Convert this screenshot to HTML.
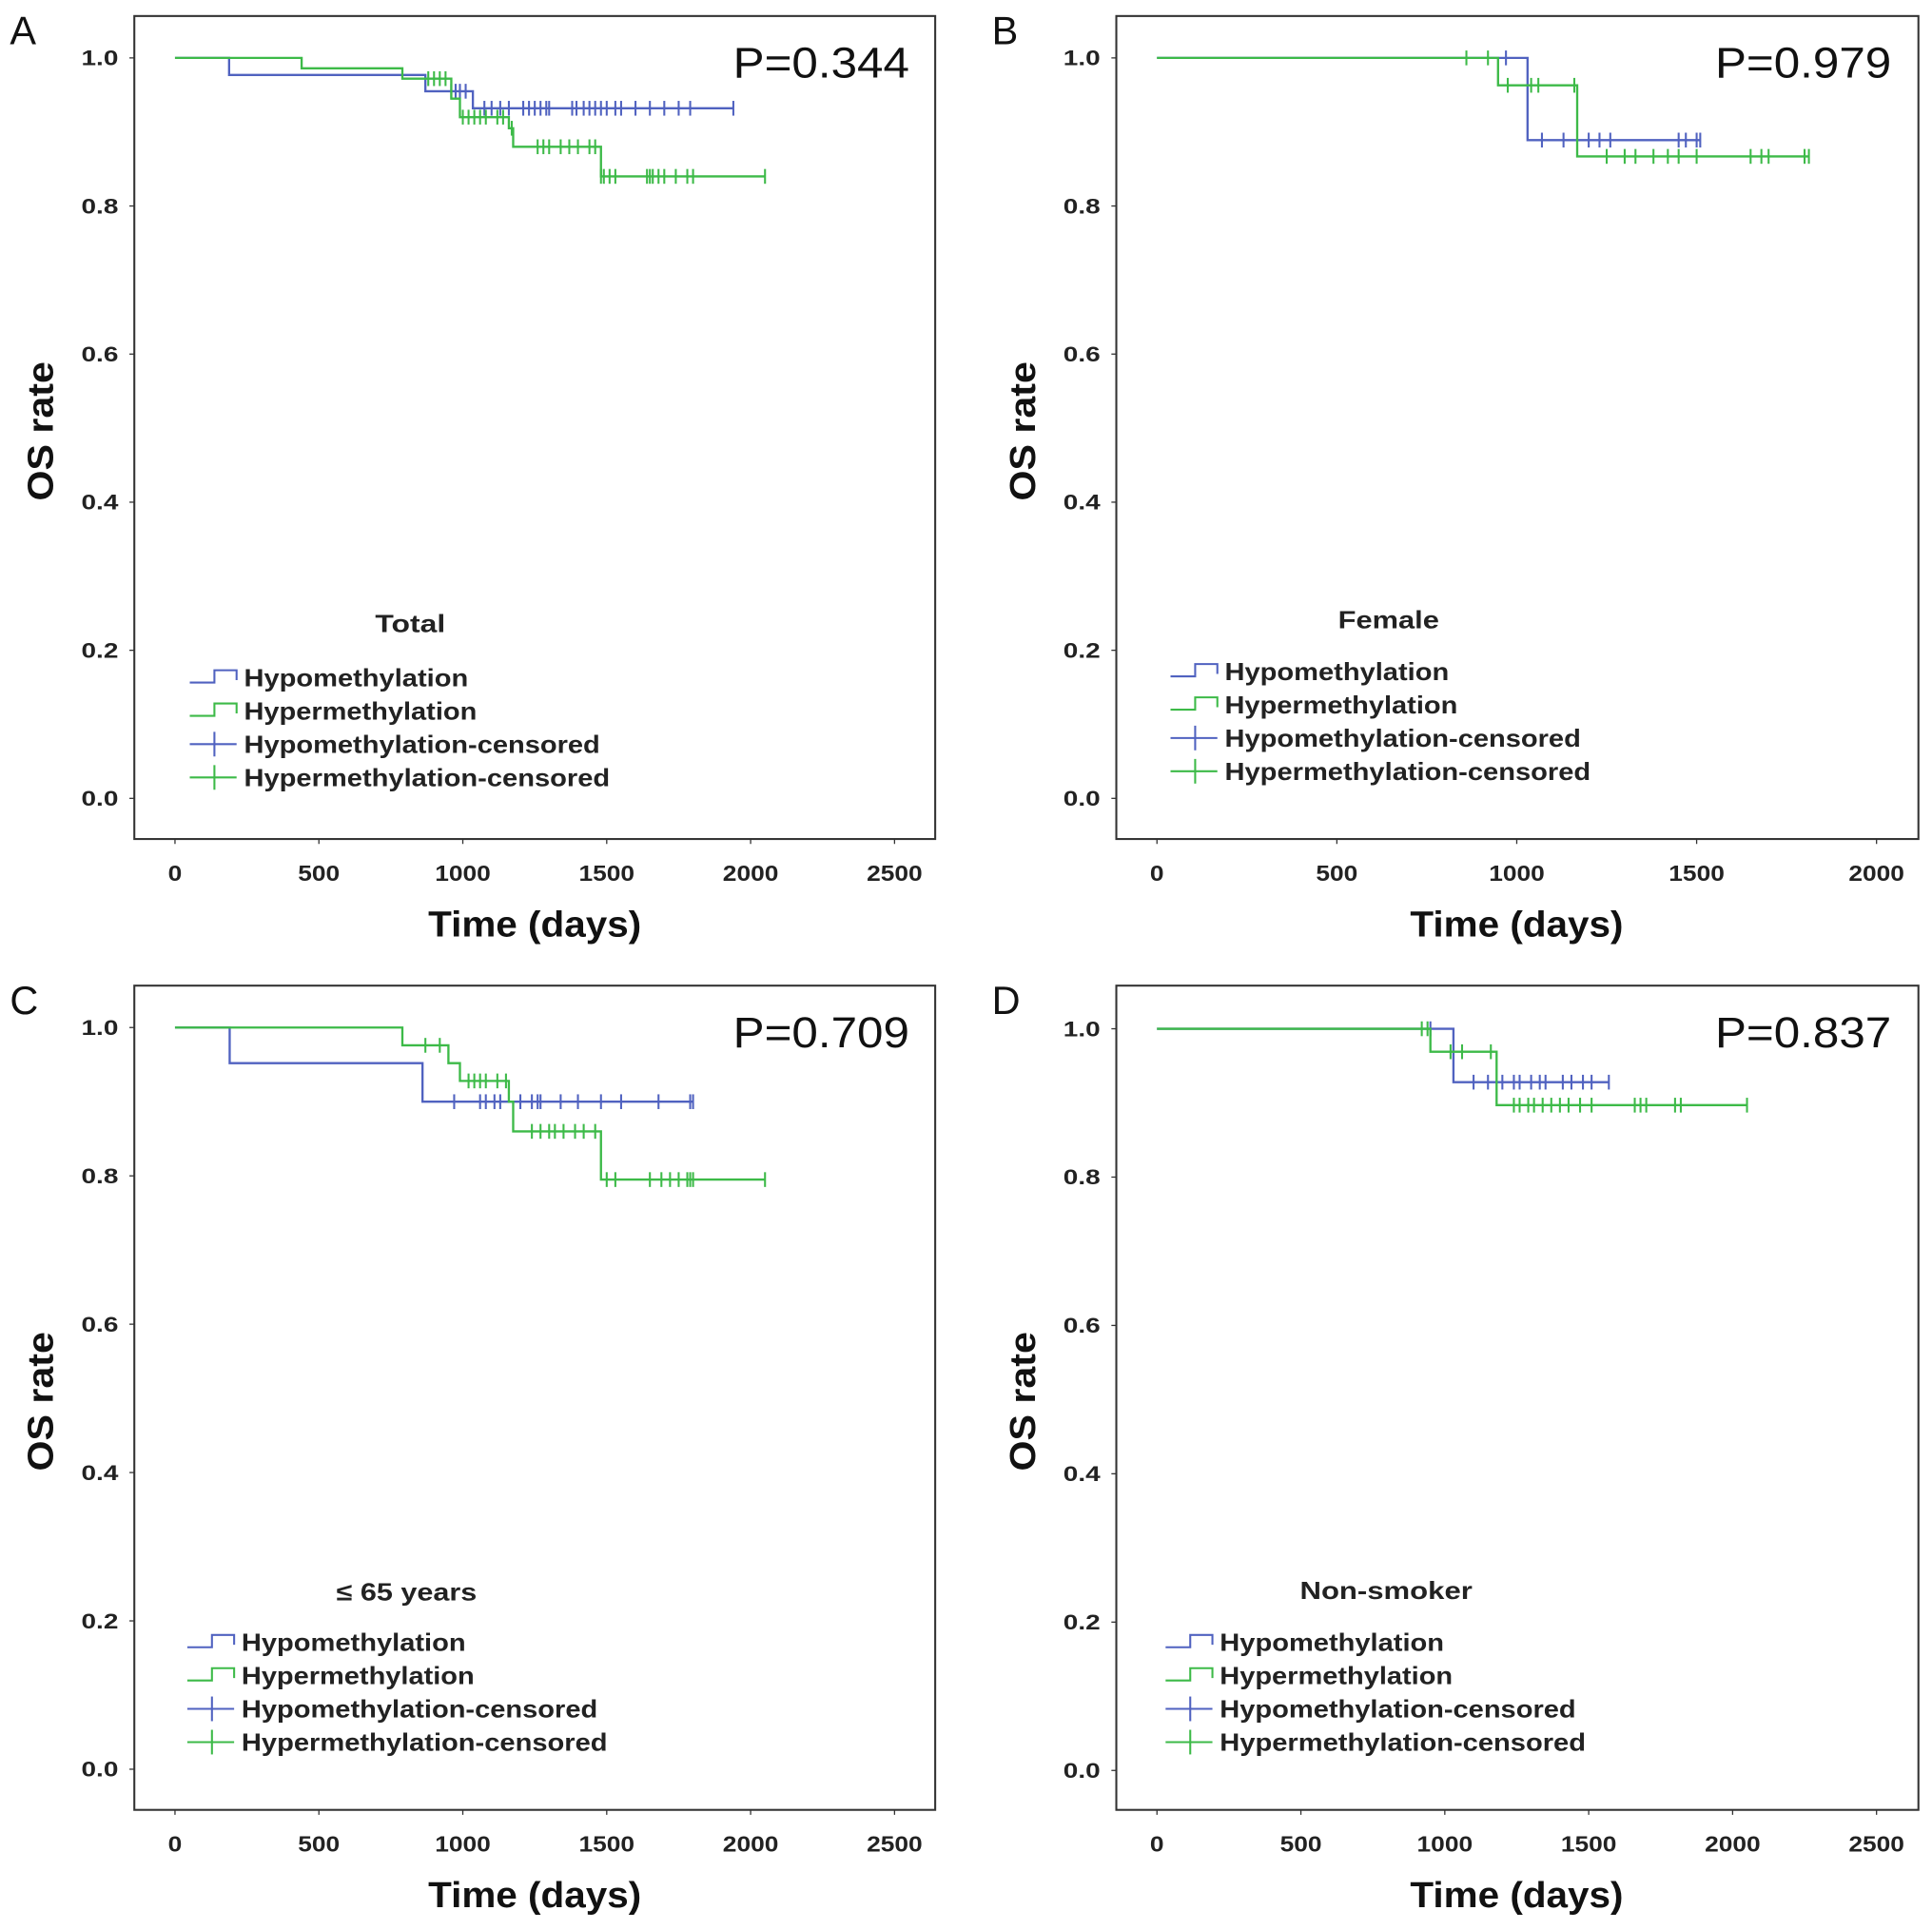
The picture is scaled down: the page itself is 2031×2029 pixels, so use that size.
<!DOCTYPE html>
<html><head><meta charset="utf-8"><style>
html,body{margin:0;padding:0;background:#fff;}
svg{display:block;font-family:"Liberation Sans",sans-serif;}
</style></head><body>
<svg id="fig" width="2031" height="2029" viewBox="0 0 1568 1566.5" xmlns="http://www.w3.org/2000/svg"></svg>
<script>
// Panel A (Total)
const aHypoSteps=[[0,1.0],[188,0.977],[870,0.955],[1035,0.932],[1940,0.932]];
const aHyperSteps=[[0,1.0],[440,0.986],[790,0.972],[960,0.945],[990,0.92],[1160,0.905],[1175,0.88],[1480,0.84],[2050,0.84]];
const aHypoCens=[960,975,990,1010,1075,1100,1130,1160,1210,1230,1250,1270,1290,1300,1380,1395,1420,1440,1460,1480,1500,1530,1550,1600,1650,1700,1750,1790,1940];
const aHyperCens=[880,900,920,940,1000,1020,1040,1060,1080,1120,1140,1170,1260,1280,1300,1340,1370,1400,1440,1460,1480,1490,1510,1530,1640,1650,1660,1680,1700,1740,1780,1800,2050];
// Panel B (Female)
const bHypoSteps=[[0,1.0],[1030,0.889],[1510,0.889]];
const bHyperSteps=[[0,1.0],[948,0.963],[1168,0.867],[1812,0.867]];
const bHypoCens=[970,1070,1130,1200,1230,1260,1450,1470,1500,1510];
const bHyperCens=[860,920,975,1040,1060,1160,1250,1300,1330,1380,1420,1450,1500,1650,1680,1700,1800,1812];
// Panel C (<=65)
const cHypoSteps=[[0,1.0],[190,0.952],[860,0.90],[1800,0.90]];
const cHyperSteps=[[0,1.0],[790,0.976],[950,0.952],[990,0.928],[1160,0.9],[1175,0.86],[1480,0.795],[2050,0.795]];
const cHypoCens=[970,1060,1080,1110,1130,1200,1240,1260,1270,1340,1400,1480,1550,1680,1790,1800];
const cHyperCens=[870,920,1020,1040,1060,1080,1120,1150,1240,1270,1300,1320,1350,1390,1420,1460,1500,1530,1650,1690,1720,1750,1780,1790,1800,2050];
// Panel D (Non-smoker)
const dHypoSteps=[[0,1.0],[1030,0.928],[1570,0.928]];
const dHyperSteps=[[0,1.0],[950,0.969],[1180,0.897],[2050,0.897]];
const dHypoCens=[950,1100,1150,1200,1240,1260,1300,1330,1350,1410,1440,1480,1510,1570];
const dHyperCens=[920,940,1020,1060,1160,1240,1260,1290,1310,1340,1370,1400,1430,1470,1510,1660,1680,1700,1800,1820,2050];
const yTicks=[0,0.2,0.4,0.6,0.8,1.0];
const xTicksA=[0,500,1000,1500,2000,2500];
const xTicksB=[0,500,1000,1500,2000];

const NS="http://www.w3.org/2000/svg";
const svg=document.getElementById('fig');
const BLUE="#5062c0", GREEN="#3dba48";
function mk(tag,attrs,parent){const e=document.createElementNS(NS,tag);for(const k in attrs)e.setAttribute(k,attrs[k]);(parent||svg).appendChild(e);return e;}
function fit(t,w){t.setAttribute('textLength',w);t.setAttribute('lengthAdjust','spacingAndGlyphs');}

function panel(cfg){
  const g=mk('g',{});
  
  
  const X=d=>cfg.x0+d*cfg.kx, Y=v=>cfg.y0-v*cfg.ky;
  const fr=mk('rect',{x:cfg.fx,y:cfg.fy,width:cfg.fw,height:cfg.fh,fill:'none',stroke:'#333','stroke-width':1.6},g);
  
  
  const lt=mk('text',{x:cfg.fx-101,y:cfg.fy+23,'font-size':32,fill:'#111'},g);lt.textContent=cfg.letter;
  
  
  yTicks.forEach(v=>{
    mk('line',{x1:cfg.fx-4,x2:cfg.fx,y1:Y(v),y2:Y(v),stroke:'#333','stroke-width':1},g);
    const t=mk('text',{x:cfg.fx-13,y:Y(v)+6,'font-size':17,'font-weight':'bold','text-anchor':'end',fill:'#222'},g);
    t.textContent=v.toFixed(1);
    fit(t,30);
    
    
  });
  cfg.xt.forEach(v=>{
    mk('line',{x1:X(v),x2:X(v),y1:cfg.fy+cfg.fh,y2:cfg.fy+cfg.fh+4,stroke:'#333','stroke-width':1},g);
    const t=mk('text',{x:X(v),y:cfg.fy+cfg.fh+34,'font-size':18,'font-weight':'bold','text-anchor':'middle',fill:'#222'},g);
    t.textContent=v;
    fit(t,String(v).length*11.3);
    
    
  });
  const yt=mk('text',{x:0,y:0,'font-size':29,'font-weight':'bold','text-anchor':'middle',fill:'#111',transform:`translate(${cfg.fx-66},${cfg.fy+cfg.fh/2+3}) rotate(-90)`},g);
  yt.textContent='OS rate';
  fit(yt,113);
  
  
  const xt=mk('text',{x:cfg.fx+325,y:cfg.fy+cfg.fh+79,'font-size':29,'font-weight':'bold','text-anchor':'middle',fill:'#111'},g);
  xt.textContent='Time (days)';
  fit(xt,173);
  
  
  const p=mk('text',{x:cfg.fx+629,y:cfg.fy+50,'font-size':35,'text-anchor':'end',fill:'#111'},g);
  p.textContent=cfg.p;
  fit(p,143);
  
  
  function curve(steps,cens,color,name){
    let d=`M${X(steps[0][0])},${Y(steps[0][1])}`;
    for(let i=1;i<steps.length;i++){d+=` H${X(steps[i][0])} V${Y(steps[i][1])}`;}
    const pth=mk('path',{d:d,fill:'none',stroke:color,'stroke-width':1.8},g);
    
    
    cens.forEach(c=>{
      let v=steps[0][1];
      for(const s of steps){if(s[0]<=c)v=s[1];}
      const m=mk('line',{x1:X(c),x2:X(c),y1:Y(v)-6,y2:Y(v)+6,stroke:color,'stroke-width':1.6},g);
      
      
    });
  }
  curve(cfg.hypo[0],cfg.hypo[1],BLUE,'hypomethylation');
  curve(cfg.hyper[0],cfg.hyper[1],GREEN,'hypermethylation');
  const lg=mk('g',{},g);
  
  
  const tt=mk('text',{x:cfg.lt[0],y:cfg.lt[1]+7,'font-size':20,'font-weight':'bold','text-anchor':'middle',fill:'#222'},lg);
  tt.textContent=cfg.title;
  fit(tt,cfg.tw);
  
  
  const names=['Hypomethylation','Hypermethylation','Hypomethylation-censored','Hypermethylation-censored'];
  const widths=[182,189,289,297];
  const cols=[BLUE,GREEN,BLUE,GREEN];
  names.forEach((n,i)=>{
    const y=cfg.ly+i*27, x=cfg.lx;
    if(i<2){mk('path',{d:`M${x},${y+4} H${x+20} V${y-6} H${x+38} V${y+2}`,fill:'none',stroke:cols[i],'stroke-width':1.6},lg);}
    else{mk('line',{x1:x,x2:x+38,y1:y,y2:y,stroke:cols[i],'stroke-width':1.6},lg);mk('line',{x1:x+20,x2:x+20,y1:y-10,y2:y+10,stroke:cols[i],'stroke-width':1.6},lg);}
    const t=mk('text',{x:x+44,y:y+7,'font-size':20,'font-weight':'bold',fill:'#222'},lg);
    t.textContent=n;
    fit(t,widths[i]);
    
    
  });
}
panel({letter:'A',fx:109,fy:13,fw:650,fh:668,x0:142,kx:0.2336,y0:648,ky:601,xt:xTicksA,p:'P=0.344',
  hypo:[aHypoSteps,aHypoCens],hyper:[aHyperSteps,aHyperCens],title:'Total',tw:57,lt:[333,506],lx:154,ly:550});
panel({letter:'B',fx:906,fy:13,fw:651,fh:668,x0:939,kx:0.292,y0:648,ky:601,xt:xTicksB,p:'P=0.979',
  hypo:[bHypoSteps,bHypoCens],hyper:[bHyperSteps,bHyperCens],title:'Female',tw:82,lt:[1127,503],lx:950,ly:545});
panel({letter:'C',fx:109,fy:800,fw:650,fh:669,x0:142,kx:0.2336,y0:1436,ky:602,xt:xTicksA,p:'P=0.709',
  hypo:[cHypoSteps,cHypoCens],hyper:[cHyperSteps,cHyperCens],title:'≤ 65 years',tw:114,lt:[330,1292],lx:152,ly:1333});
panel({letter:'D',fx:906,fy:800,fw:651,fh:669,x0:939,kx:0.2336,y0:1437,ky:602,xt:xTicksA,p:'P=0.837',
  hypo:[dHypoSteps,dHypoCens],hyper:[dHyperSteps,dHyperCens],title:'Non-smoker',tw:140,lt:[1125,1291],lx:946,ly:1333});
</script>
</body></html>
